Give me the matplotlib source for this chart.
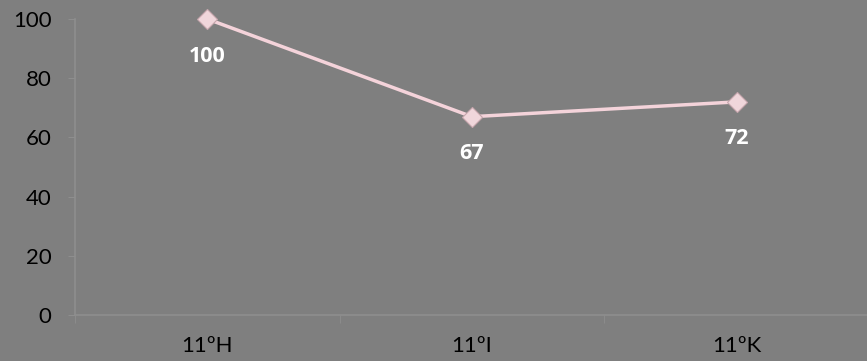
import matplotlib.pyplot as plt
import numpy as np

# dados
turmas = ["11ºH", "11ºI", "11ºK"]
valores = [100, 67, 72]

plt.rcParams['font.family'] = ['Lato', 'DejaVu Sans']

bg = "#7f7f7f"
eixo = "#8e8e8e"
fig = plt.figure(figsize=(8.67, 3.61), dpi=100, facecolor=bg)
ax = fig.add_axes([75/867, 46/361, 794/867, 296/361])
ax.set_facecolor(bg)

x = np.arange(len(turmas))
ax.plot(x, valores, color="#f4d3da", lw=2.5, zorder=2, clip_on=False)
ax.plot(x, valores, ls="none", marker="D", ms=10.5, mfc="#f0d6db", mec="#c6a6ad",
        mew=0.8, zorder=3, clip_on=False)

# rótulos dos pontos
for xi, v in zip(x, valores):
    ax.annotate(str(v), (xi, v), xytext=(0, -37), textcoords="offset pixels",
                ha="center", va="center", color="white", fontsize=15.5,
                fontweight="bold", family=["Open Sans", "DejaVu Sans"])

ax.set_xlim(-0.5, 2.5)
ax.set_ylim(0, 100)
ax.set_yticks(range(0, 101, 20))
ax.set_xticks(x)
ax.set_xticklabels(turmas)
ax.set_xticks([-0.5, 0.5, 1.5, 2.5], minor=True)
ax.tick_params(axis="x", which="major", length=0, pad=15, labelsize=16, colors="black")
ax.tick_params(axis="x", which="minor", length=6, color=eixo)
ax.tick_params(axis="y", length=5, color=eixo, labelsize=16, labelcolor="black", pad=12)

for s in ["top", "right"]:
    ax.spines[s].set_visible(False)
for s in ["left", "bottom"]:
    ax.spines[s].set_color(eixo)
    ax.spines[s].set_linewidth(1.2)

fig.savefig("out.png", dpi=100, facecolor=bg)
